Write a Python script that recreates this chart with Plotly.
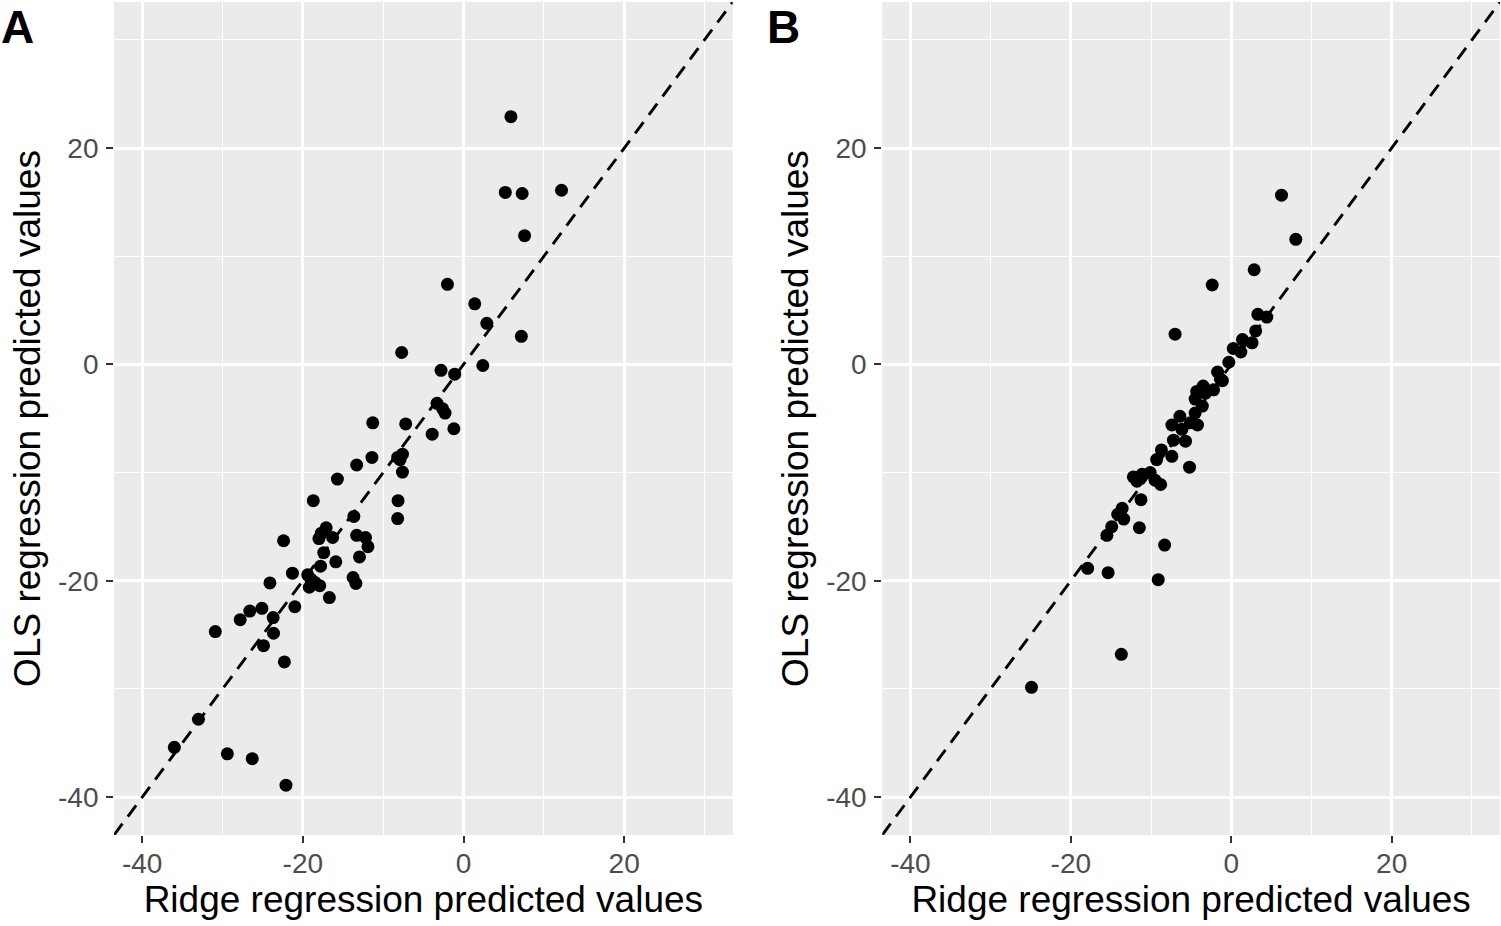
import plotly.graph_objects as go

# shared axis limits (ggplot limits -40..30 with 5% expansion)
lims = [-43.5, 33.5]
tick_vals = [-40, -20, 0, 20]
tick_text = ["-40", "-20", "0", "20"]
minor_vals = [-30, -10, 10, 30]

# Panel A
ridge_a = [5.9, 5.2, 7.3, 12.2, 7.6, -2.0, 1.4, 2.9, 7.2, -7.7,
           2.4, -2.8, -1.1, -3.3, -2.6, -2.3, -11.3, -7.2, -3.9, -1.2,
           -11.4, -13.3, -8.2, -7.6, -7.9, -7.6, -15.7, -18.7, -8.15, -8.2,
           -13.65, -17.1, -17.7, -18.0, -16.3, -13.3, -12.2, -11.9, -22.4, -17.4,
           -12.95, -15.9, -17.8, -21.3, -19.4, -19.0, -18.5, -19.2, -17.9, -13.75,
           -13.4, -24.1, -16.7, -21.0, -25.1, -26.6, -27.8, -23.7, -30.9, -23.65,
           -24.9, -22.3, -33.0, -36.0, -29.4, -26.3, -22.1]
ols_a = [22.9, 15.9, 15.8, 16.1, 11.9, 7.4, 5.6, 3.8, 2.6, 1.1,
         -0.1, -0.55, -0.9, -3.6, -4.1, -4.5, -5.4, -5.5, -6.45, -5.95,
         -8.6, -9.3, -8.6, -8.3, -8.8, -9.95, -10.6, -12.6, -12.6, -14.25,
         -14.05, -15.1, -15.6, -16.1, -16.0, -15.8, -16.0, -16.85, -16.3, -17.4,
         -17.8, -18.25, -18.65, -19.3, -19.45, -19.85, -20.15, -20.6, -20.45, -19.7,
         -20.25, -20.2, -21.55, -22.4, -22.55, -22.8, -23.6, -23.4, -24.7, -24.85,
         -26.0, -27.5, -32.8, -35.4, -36.0, -36.45, -38.9]

# Panel B
ridge_b = [6.27, 8.05, 2.86, -2.37, -7.0, 3.32, 4.44, 3.05, 2.6, 1.4,
           1.2, 0.25, -0.3, -1.7, -1.1, -2.2, -3.5, -4.3, -4.5, -3.6,
           -4.5, -6.4, -4.2, -5.1, -7.4, -6.15, -7.2, -5.7, -8.7, -7.4,
           -9.3, -5.2, -10.1, -12.2, -11.1, -9.5, -8.8, -11.75, -11.25, -13.6,
           -14.15, -13.4, -14.9, -15.5, -11.45, -8.3, -17.9, -15.35, -9.1, -13.7,
           -24.9, -3.2, -1.35]
ols_b = [15.65, 11.56, 8.75, 7.34, 2.8, 4.63, 4.38, 3.1, 2.0, 2.3,
         1.15, 1.47, 0.2, -0.7, -1.5, -2.35, -2.0, -2.5, -3.2, -3.85,
         -4.5, -4.8, -5.6, -5.4, -5.6, -6.0, -7.0, -7.1, -7.9, -8.5,
         -8.8, -9.5, -10.0, -10.4, -10.15, -10.7, -11.1, -10.8, -12.5, -13.3,
         -13.85, -14.3, -15.0, -15.8, -15.1, -16.7, -18.85, -19.25, -19.9, -26.8,
         -29.85, -2.65, -1.35]

font = "Arial, Liberation Sans, sans-serif"

fig = go.Figure()
panels = [("x", "y", ridge_a, ols_a), ("x2", "y2", ridge_b, ols_b)]
for xa, ya, xs, ys in panels:
    fig.add_trace(go.Scatter(x=xs, y=ys, mode="markers",
                             marker=dict(color="black", size=13),
                             xaxis=xa, yaxis=ya, showlegend=False))
    # identity line y = x
    fig.add_trace(go.Scatter(x=lims, y=lims, mode="lines",
                             line=dict(color="black", width=2.9, dash="14px,9px"),
                             xaxis=xa, yaxis=ya, showlegend=False, hoverinfo="skip"))

axis_style = dict(
    range=lims, showgrid=True, gridcolor="white", gridwidth=2.6,
    zeroline=False, showline=False,
    ticks="outside", ticklen=7, tickwidth=2.2, tickcolor="#333333",
    tickfont=dict(size=28, color="#4D4D4D", family=font),
    tickmode="array", tickvals=tick_vals, ticktext=tick_text,
    minor=dict(tickmode="array", tickvals=minor_vals, showgrid=True,
               gridcolor="white", gridwidth=1.3),
)
xtitle = dict(text="Ridge regression predicted values", font=dict(size=37, color="black", family=font), standoff=4)
ytitle = dict(text="OLS regression predicted values", font=dict(size=37, color="black", family=font), standoff=6)

fig.update_layout(
    width=1501, height=926,
    margin=dict(l=0, r=0, t=0, b=0),
    paper_bgcolor="white", plot_bgcolor="#EBEBEB",
    font=dict(family=font),
    xaxis=dict(domain=[0.0760, 0.4881], anchor="y", title=xtitle, ticklabelstandoff=-4, **axis_style),
    yaxis=dict(domain=[0.0983, 0.9978], anchor="x", title=ytitle, ticklabelstandoff=2, **axis_style),
    xaxis2=dict(domain=[0.5878, 0.9993], anchor="y2", title=xtitle, ticklabelstandoff=-4, **axis_style),
    yaxis2=dict(domain=[0.0983, 0.9978], anchor="x2", title=ytitle, ticklabelstandoff=2, **axis_style),
    annotations=[
        dict(text="<b>A</b>", x=0, y=1, xref="paper", yref="paper", xanchor="left", yanchor="top",
             borderpad=0, showarrow=False,
             font=dict(size=46, color="black", family=font)),
        dict(text="<b>B</b>", x=0.5105, y=1, xref="paper", yref="paper", xanchor="left", yanchor="top",
             borderpad=0, showarrow=False,
             font=dict(size=46, color="black", family=font)),
    ],
)

fig.write_html("out.html", config={"displayModeBar": False},
               post_script="document.body.style.margin='0';")
